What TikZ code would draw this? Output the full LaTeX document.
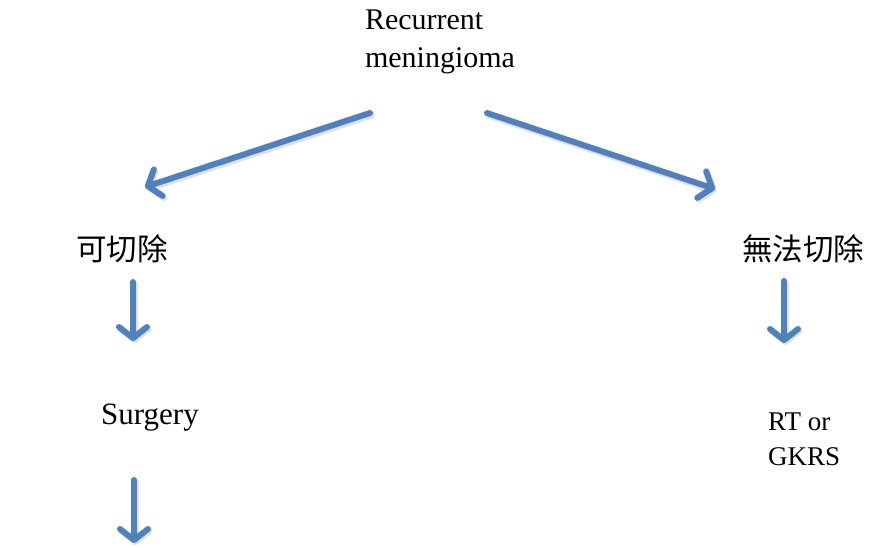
\documentclass[tikz,border=0pt]{standalone}
\usepackage{fontspec}
\setmainfont{Liberation Serif}
\newfontfamily\cjk{Noto Sans CJK TC}
\usetikzlibrary{arrows.meta}
\definecolor{flowblue}{HTML}{4F81BD}
\tikzset{
  flowhead/.tip={Straight Barb[length=11pt,width=28pt,line width=6pt,round]},
  flowarrow/.style={draw=flowblue, line width=6pt, line cap=round, -flowhead},
  flowshadow/.style={draw=black, opacity=0.12, line width=7pt, line cap=round, -flowhead},
  label30/.style={inner sep=0pt, font=\fontsize{30}{38}\selectfont},
  label31/.style={inner sep=0pt, font=\fontsize{31}{38}\selectfont},
  label26/.style={inner sep=0pt, align=left, font=\fontsize{27}{35}\selectfont},
  cjklabel/.style={inner sep=0pt, font=\cjk\fontsize{30.5}{34}\selectfont},
}
\begin{document}
\begin{tikzpicture}[x=1pt,y=-1pt]
  \useasboundingbox (0,0) rectangle (869,547);

  % labels
  \node[label30, align=left] (root) at (440,42) {Recurrent\\meningioma};
  \node[cjklabel] (resect) at (122,249) {可切除};
  \node[cjklabel] (unresect) at (803,249) {無法切除};
  \node[label31] (surgery) at (150,418) {Surgery};
  \node[label26, anchor=west] (rt) at (768,439) {RT or\\GKRS};

  % arrow end points
  \coordinate (a1s) at (370,113);
  \coordinate (a1e) at (145,187);
  \coordinate (a2s) at (487,113);
  \coordinate (a2e) at (715,189);
  \coordinate (a3s) at (133,282);
  \coordinate (a3e) at (133,341);
  \coordinate (a4s) at (784,281);
  \coordinate (a4e) at (784,343);
  \coordinate (a5s) at (134,480);
  \coordinate (a5e) at (134,543);

  % soft shadows under the arrows
  \foreach \s/\e in {a1s/a1e,a2s/a2e,a3s/a3e,a4s/a4e,a5s/a5e}
    \draw[flowshadow, transform canvas={shift={(1.5pt,-2pt)}}] (\s) -- (\e);

  % arrows
  \draw[flowarrow] (a1s) -- (a1e);
  \draw[flowarrow] (a2s) -- (a2e);
  \draw[flowarrow] (a3s) -- (a3e);
  \draw[flowarrow] (a4s) -- (a4e);
  \draw[flowarrow] (a5s) -- (a5e);
\end{tikzpicture}
\end{document}
